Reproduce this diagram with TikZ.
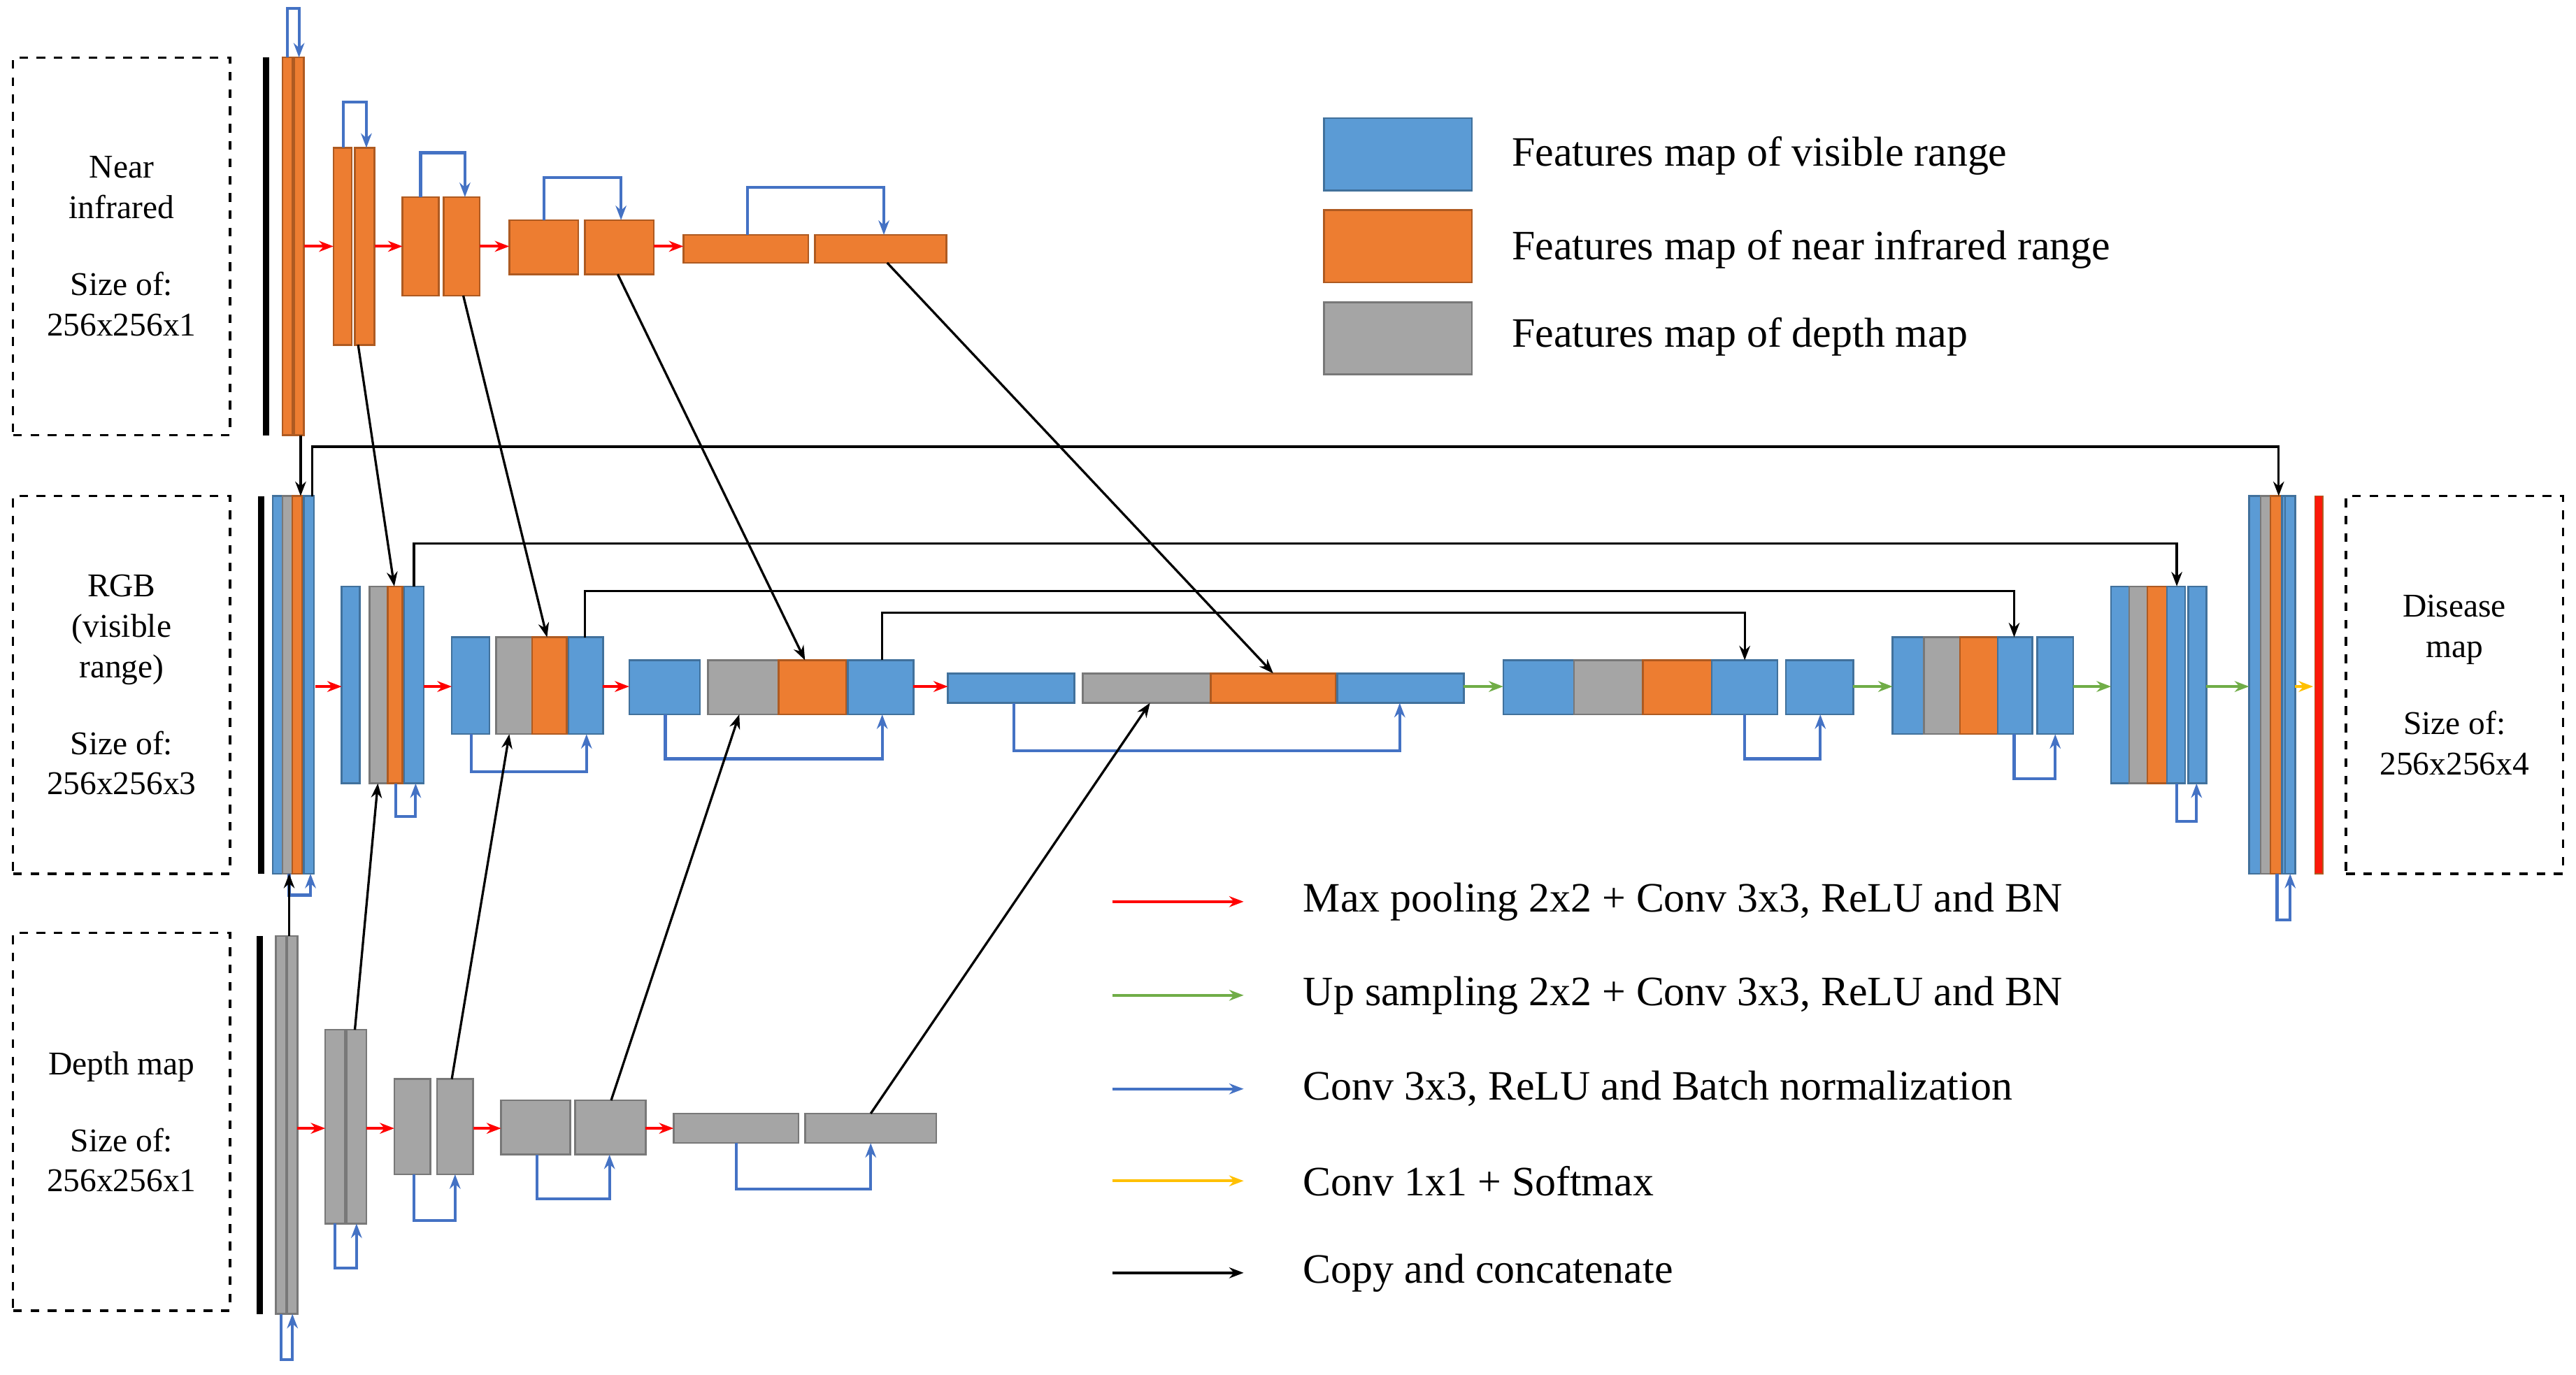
\documentclass[tikz,border=0pt]{standalone}
\usepackage{fontspec}
\setmainfont{Liberation Serif}
\usetikzlibrary{arrows.meta}
\definecolor{vis}{HTML}{5B9BD5}\definecolor{visd}{HTML}{41719C}
\definecolor{nir}{HTML}{ED7D31}\definecolor{nird}{HTML}{AE5A21}
\definecolor{dep}{HTML}{A5A5A5}\definecolor{depd}{HTML}{787878}
\definecolor{convc}{HTML}{4472C4}\definecolor{upc}{HTML}{70AD47}
\definecolor{smc}{HTML}{FFC000}
\tikzset{
 V/.style={fill=vis,draw=visd,line width=0.6pt},
 N/.style={fill=nir,draw=nird,line width=0.6pt},
 G/.style={fill=dep,draw=depd,line width=0.6pt},
 pool/.style={red,line width=1pt,-{Stealth[length=5pt]}},
 up/.style={upc,line width=1pt,-{Stealth[length=5pt]}},
 conv/.style={convc,line width=1pt,-{Stealth[length=5pt]}},
 soft/.style={smc,line width=1pt,-{Stealth[length=5pt]}},
 copy/.style={black,line width=0.8pt,-{Stealth[length=5pt]}},
 infobox/.style={draw,dashed,line width=0.8pt,align=center,font=\fontsize{11.5}{14}\selectfont,inner sep=0pt},
 legtext/.style={anchor=west,font=\fontsize{14.5}{17}\selectfont,inner sep=0pt}
}
% feature map block: style, x1, x2, y1, y2
\newcommand\fmap[5]{\path[#1] (#2,#4) rectangle (#3,#5);}
% conv loop below: x1, x2, ybox, yloop
\newcommand\convdn[4]{\draw[conv] (#1,#3) -- (#1,#4) -- (#2,#4) -- (#2,#3);}
\newcommand\convup[4]{\draw[conv] (#1,#3) -- (#1,#4) -- (#2,#4) -- (#2,#3);}
\begin{document}
\begin{tikzpicture}[x=0.02cm,y=-0.02cm]
\useasboundingbox (0,0) rectangle (1568,837);
% input / output boxes
\node[infobox,minimum width=2.64cm,minimum height=4.6cm] (nirbox) at (74,150) {Near\\infrared\\[1.1em]Size of:\\256x256x1};
\node[infobox,minimum width=2.64cm,minimum height=4.6cm] (rgbbox) at (74,417) {RGB\\(visible\\range)\\[1.1em]Size of:\\256x256x3};
\node[infobox,minimum width=2.64cm,minimum height=4.6cm] (depbox) at (74,683) {Depth map\\[1.1em]Size of:\\256x256x1};
\node[infobox,minimum width=2.64cm,minimum height=4.6cm] (outbox) at (1494,417) {Disease\\map\\[1.1em]Size of:\\256x256x4};
\fill (160,35) rectangle (164,265);
\fill (157,302) rectangle (161,532);
\fill (156,570) rectangle (160,800);
% near infrared encoder
\fmap{N}{172}{178}{35}{265}\fmap{N}{179}{185}{35}{265}
\convup{175}{182}{35}{5}
\fmap{N}{203}{214}{90}{210}\fmap{N}{216}{228}{90}{210}
\convup{209}{223}{90}{62}
\fmap{N}{245}{267}{120}{180}\fmap{N}{270}{292}{120}{180}
\convup{256}{283}{120}{93}
\fmap{N}{310}{352}{134}{167}\fmap{N}{356}{398}{134}{167}
\convup{331}{378}{134}{108}
\fmap{N}{416}{492}{143}{160}\fmap{N}{496}{576}{143}{160}
\convup{455}{538}{143}{114}
\draw[pool] (185,150) -- (203,150);
\draw[pool] (228,150) -- (245,150);
\draw[pool] (292,150) -- (310,150);
\draw[pool] (398,150) -- (416,150);
% RGB encoder
\fmap{V}{166}{172}{302}{532}\fmap{G}{172}{178}{302}{532}\fmap{N}{178}{184}{302}{532}\fmap{V}{185}{191}{302}{532}
\convdn{176}{189}{532}{545}
\fmap{V}{208}{219}{357}{477}\fmap{G}{225}{236}{357}{477}\fmap{N}{236}{245}{357}{477}\fmap{V}{246}{258}{357}{477}
\convdn{241}{253}{477}{497}
\fmap{V}{275}{298}{388}{447}\fmap{G}{302}{324}{388}{447}\fmap{N}{324}{345}{388}{447}\fmap{V}{346}{367}{388}{447}
\convdn{287}{357}{447}{470}
\fmap{V}{383}{426}{402}{435}\fmap{G}{431}{474}{402}{435}\fmap{N}{474}{515}{402}{435}\fmap{V}{516}{556}{402}{435}
\convdn{405}{537}{435}{462}
\fmap{V}{577}{654}{410}{428}\fmap{G}{659}{737}{410}{428}\fmap{N}{737}{813}{410}{428}\fmap{V}{814}{891}{410}{428}
\convdn{617}{852}{428}{457}
\draw[pool] (192,418) -- (208,418);
\draw[pool] (258,418) -- (275,418);
\draw[pool] (367,418) -- (383,418);
\draw[pool] (556,418) -- (577,418);
% decoder
\fmap{V}{915}{958}{402}{435}\fmap{G}{958}{1000}{402}{435}\fmap{N}{1000}{1042}{402}{435}\fmap{V}{1042}{1082}{402}{435}\fmap{V}{1087}{1128}{402}{435}
\convdn{1062}{1108}{435}{462}
\fmap{V}{1152}{1171}{388}{447}\fmap{G}{1171}{1193}{388}{447}\fmap{N}{1193}{1216}{388}{447}\fmap{V}{1216}{1237}{388}{447}\fmap{V}{1240}{1262}{388}{447}
\convdn{1226}{1251}{447}{474}
\fmap{V}{1285}{1296}{357}{477}\fmap{G}{1296}{1307}{357}{477}\fmap{N}{1307}{1319}{357}{477}\fmap{V}{1319}{1330}{357}{477}\fmap{V}{1332}{1343}{357}{477}
\convdn{1325}{1337}{477}{500}
\fmap{V}{1369}{1376}{302}{532}\fmap{G}{1376}{1382}{302}{532}\fmap{N}{1382}{1389}{302}{532}\fmap{V}{1389}{1396}{302}{532}\fmap{V}{1391}{1397}{302}{532}
\convdn{1386}{1394}{532}{560}
\path[fill=red!80!nir,draw=nird] (1409,302) rectangle (1414,532);
\draw[up] (891,418) -- (915,418);
\draw[up] (1128,418) -- (1152,418);
\draw[up] (1262,418) -- (1285,418);
\draw[up] (1343,418) -- (1369,418);
\draw[soft] (1397,418) -- (1408,418);
% depth encoder
\fmap{G}{168}{174}{570}{800}\fmap{G}{175}{181}{570}{800}
\convdn{171}{178}{800}{828}
\fmap{G}{198}{210}{627}{745}\fmap{G}{211}{223}{627}{745}
\convdn{204}{217}{745}{772}
\fmap{G}{240}{262}{657}{715}\fmap{G}{266}{288}{657}{715}
\convdn{252}{277}{715}{743}
\fmap{G}{305}{347}{670}{703}\fmap{G}{350}{393}{670}{703}
\convdn{327}{371}{703}{730}
\fmap{G}{410}{486}{678}{696}\fmap{G}{490}{570}{678}{696}
\convdn{448}{530}{696}{724}
\draw[pool] (181,687) -- (198,687);
\draw[pool] (223,687) -- (240,687);
\draw[pool] (288,687) -- (305,687);
\draw[pool] (393,687) -- (410,687);
% copy and concatenate
\draw[copy] (183,265) -- (183,302);
\draw[copy] (176,570) -- (176,532);
\draw[copy] (190,302) -- (190,272) -- (1387,272) -- (1387,302);
\draw[copy] (252,357) -- (252,331) -- (1325,331) -- (1325,357);
\draw[copy] (356,388) -- (356,360) -- (1226,360) -- (1226,388);
\draw[copy] (537,402) -- (537,373) -- (1062,373) -- (1062,402);
\draw[copy] (218,210) -- (240,357);
\draw[copy] (282,180) -- (333,388);
\draw[copy] (376,167) -- (490,402);
\draw[copy] (540,160) -- (775,410);
\draw[copy] (216,627) -- (230,477);
\draw[copy] (275,657) -- (310,447);
\draw[copy] (372,670) -- (450,435);
\draw[copy] (530,678) -- (700,428);
% legend
\fmap{V}{806}{896}{72}{116}\node[legtext] (l1) at (920,95) {Features map of visible range};
\fmap{N}{806}{896}{128}{172}\node[legtext] (l2) at (920,152) {Features map of near infrared range};
\fmap{G}{806}{896}{184}{228}\node[legtext] (l3) at (920,205) {Features map of depth map};
\draw[pool] (677,549) -- (757,549);\node[legtext] (l4) at (793,549) {Max pooling 2x2 + Conv 3x3, ReLU and BN};
\draw[up] (677,606) -- (757,606);\node[legtext] (l5) at (793,606) {Up sampling 2x2 + Conv 3x3, ReLU and BN};
\draw[conv] (677,663) -- (757,663);\node[legtext] (l6) at (793,663) {Conv 3x3, ReLU and Batch normalization};
\draw[soft] (677,719) -- (757,719);\node[legtext] (l7) at (793,719) {Conv 1x1 + Softmax};
\draw[copy] (677,775) -- (757,775);\node[legtext] (l8) at (793,775) {Copy and concatenate};
\end{tikzpicture}
\end{document}
